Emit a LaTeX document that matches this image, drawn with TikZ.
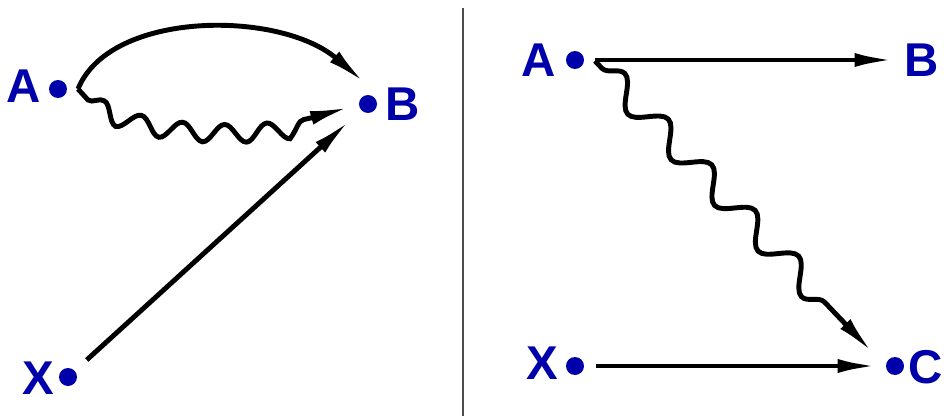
\documentclass[tikz,border=0pt]{standalone}
\usepackage{fontspec}
\setmainfont{Liberation Sans}
\usepackage{xcolor}
\usetikzlibrary{arrows.meta,decorations.pathmorphing}
\definecolor{ptblue}{RGB}{0,0,170}

\begin{document}
\begin{tikzpicture}[
  x=0.02cm,y=-0.02cm,
  every node/.style={font=\fontsize{27}{30}\selectfont\bfseries},
  lbl/.style={text=ptblue,inner sep=0pt},
  pt/.style={circle,fill=ptblue,minimum size=3.6mm,inner sep=0pt},
  arr/.style={-{Latex[length=8mm,width=2.8mm]},line width=2.8pt},
  wig/.style={arr,decorate,decoration={snake,amplitude=#1}}
]
\useasboundingbox (0,0) rectangle (944,416);

% left: A, B, X
\node[pt] (A1) at (58,89) {};
\node[pt] (B1) at (368,104) {};
\node[pt] (X1) at (68,377) {};
\node[lbl] (lA1) at (24,86) {A};
\node[lbl] (lB1) at (403,104) {B};
\node[lbl] (lX1) at (38,378) {X};
\coordinate (a1s) at (78,89);
\coordinate (b1t) at (365,83);
\coordinate (b1w) at (350,107);

\draw[arr] (a1s) .. controls (110,10) and (280,10) .. (b1t);
\draw[wig=1.8mm,decoration={segment length=8.6mm,pre length=3mm,post length=8mm}]
  (a1s) .. controls (100,130) and (260,140) .. (b1w);
\draw[arr,shorten <=3.2mm,shorten >=3mm] (X1) -- (B1);

% divider
\draw[line width=1pt,black!70] (463,8) -- (463,416);

% right: A, B, X, C
\node[pt] (A2) at (575,60) {};
\node[pt] (X2) at (575,366) {};
\node[pt] (C2) at (895,366) {};
\node[lbl] (lA2) at (539,60) {A};
\node[lbl] (lB2) at (922,60) {B};
\node[lbl] (lX2) at (542,363) {X};
\node[lbl] (lC2) at (926,367) {C};
\coordinate (a2s) at (595,61);
\coordinate (c2t) at (873,353);

\draw[arr,shorten <=2.2mm,shorten >=2mm] (A2) -- (lB2);
\draw[wig=2.6mm,decoration={segment length=12.6mm,pre length=2mm,post length=11mm}]
  (a2s) -- (c2t);
\draw[arr,shorten <=2.4mm,shorten >=1.6mm] (X2) -- (C2);
\end{tikzpicture}
\end{document}
